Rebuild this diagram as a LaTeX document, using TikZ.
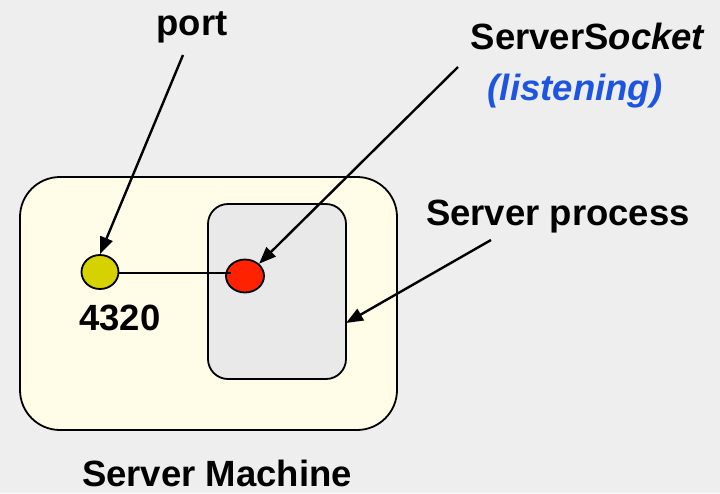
\documentclass[tikz,border=0pt]{standalone}
\usepackage{fontspec}
\setmainfont{Liberation Sans}
\usetikzlibrary{arrows.meta,shapes.geometric}
\definecolor{bgfill}{HTML}{EEEEEE}
\definecolor{machinefill}{HTML}{FFFDE7}
\definecolor{procfill}{HTML}{E9E9E9}
\definecolor{portyellow}{HTML}{D6D200}
\definecolor{sockred}{HTML}{FF2200}
\definecolor{listenblue}{HTML}{1D55E0}
\tikzset{
  lbl/.style={font=\fontsize{36.5}{40}\selectfont\bfseries, anchor=base, inner sep=0pt},
  pointer/.style={line width=2.4pt, -{Triangle[length=17pt,width=13pt]}},
  endpoint/.style={ellipse, draw, line width=1.8pt, minimum width=37pt, minimum height=34pt, inner sep=0pt},
}
\begin{document}
\begin{tikzpicture}[x=1pt,y=-1pt]
  % canvas
  \fill[bgfill] (0,0) rectangle (720,493);
  \useasboundingbox (0,0) rectangle (720,493);

  % server machine and the process running on it
  \draw[line width=1.8pt, fill=machinefill, rounded corners=40pt] (20,177) rectangle (397,430);
  \draw[line width=1.8pt, fill=procfill, rounded corners=20pt] (208,204) rectangle (346,379);

  % port and listening socket
  \node[endpoint, fill=portyellow] (port) at (100,272) {};
  \node[endpoint, fill=sockred, minimum width=38pt, minimum height=33pt] (sock) at (245,276) {};
  \coordinate (sockin) at (231,273);
  \draw[line width=1.6pt] (port.east |- sockin) -- (sockin);

  % labels
  \node[lbl] (portlbl) at (192,35) {port};
  \node[lbl] (socklbl) at (588,49) {ServerS\textit{ocket}};
  \node[lbl, text=listenblue] (listen) at (575,100) {\textit{(listening)}};
  \node[lbl] (proclbl) at (558,225) {Server process};
  \node[lbl] (numlbl) at (120,330) {4320};
  \node[lbl] (machlbl) at (217,486) {Server Machine};

  % pointers
  \coordinate (portsrc) at (183,55);
  \coordinate (socksrc) at (458,67);
  \coordinate (procsrc) at (491,240);
  \coordinate (procedge) at (346,323);
  \draw[pointer] (portsrc) -- (port.north);
  \draw[pointer] (socksrc) -- (sock.north east);
  \draw[pointer] (procsrc) -- (procedge);
\end{tikzpicture}
\end{document}
